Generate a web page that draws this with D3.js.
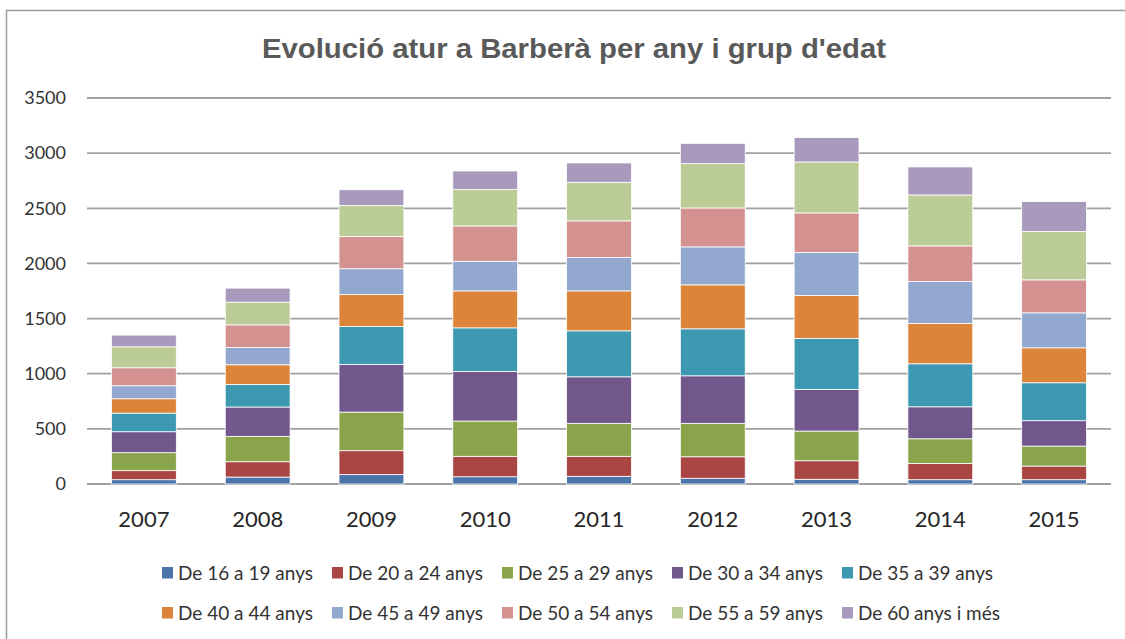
<!DOCTYPE html>
<html><head><meta charset="utf-8">
<script src="https://cdn.jsdelivr.net/npm/d3@7"></script>
<style>
html,body{margin:0;padding:0;background:#fff;overflow:hidden}
svg{display:block}
</style></head>
<body>
<svg id="chart" width="1125" height="639"></svg>
<script>
const years = ["2007","2008","2009","2010","2011","2012","2013","2014","2015"];
const seriesNames = ["De 16 a 19 anys","De 20 a 24 anys","De 25 a 29 anys","De 30 a 34 anys","De 35 a 39 anys","De 40 a 44 anys","De 45 a 49 anys","De 50 a 54 anys","De 55 a 59 anys","De 60 anys i més"];
const s16_19 = [39, 63, 85, 66, 70, 52, 43, 39, 39];
const s20_24 = [82, 139, 217, 185, 181, 195, 168, 148, 124];
const s25_29 = [163, 230, 350, 320, 299, 303, 269, 223, 181];
const s30_34 = [190, 266, 432, 450, 422, 431, 378, 290, 230];
const s35_39 = [169, 205, 345, 395, 417, 426, 462, 390, 344];
const s40_44 = [130, 178, 290, 335, 362, 399, 390, 366, 317];
const s45_49 = [118, 157, 233, 269, 303, 344, 389, 380, 317];
const s50_54 = [163, 205, 293, 320, 332, 353, 359, 323, 299];
const s55_59 = [190, 206, 281, 330, 350, 402, 462, 462, 438];
const s60 = [106, 127, 142, 168, 175, 184, 221, 254, 272];
const yTicks = [0, 500, 1000, 1500, 2000, 2500, 3000, 3500];
const colors = ["#4a74aa","#a94542","#89a44a","#71578b","#3d98b1","#dc8439","#93a8cf","#d39190","#bccc96","#a99abd"];
const title = "Evolució atur a Barberà per any i grup d'edat";

const seriesValues = [s16_19,s20_24,s25_29,s30_34,s35_39,s40_44,s45_49,s50_54,s55_59,s60];
const table = years.map((y, i) => {
  const row = {year: y};
  seriesNames.forEach((n, k) => row[n] = seriesValues[k][i]);
  return row;
});
const stack = d3.stack().keys(seriesNames)(table);

const svg = d3.select("#chart");
const fontAxis = "Lato, 'Open Sans', sans-serif";

// outer border
svg.append("rect").attr("x", 6.5).attr("y", 10.5).attr("width", 1200).attr("height", 700)
  .attr("fill", "#fff").attr("stroke", "#9a9a9a").attr("stroke-width", 1.5);

const x = d3.scaleBand().domain(years).range([87, 1111]).paddingInner(0.43).paddingOuter(0.215);
const y = d3.scaleLinear().domain([0, 3500]).range([484, 98]);

// gridlines
svg.append("g").selectAll("line").data(yTicks).join("line")
  .attr("x1", 87).attr("x2", 1111)
  .attr("y1", d => y(d)).attr("y2", d => y(d))
  .attr("stroke", "#a0a0a0").attr("stroke-width", 1.8);

// y labels
svg.append("g").selectAll("text").data(yTicks).join("text")
  .attr("x", 66).attr("y", d => y(d)).attr("dy", "0.35em")
  .attr("text-anchor", "end").attr("fill", "#333")
  .style("font-family", fontAxis).style("font-size", "18px")
  .text(d => d);

// bars
svg.append("g").selectAll("g").data(stack).join("g")
  .attr("fill", (d, i) => colors[i])
  .selectAll("rect").data(d => d).join("rect")
  .attr("x", d => x(d.data.year))
  .attr("width", x.bandwidth())
  .attr("y", d => y(d[1]))
  .attr("height", d => y(d[0]) - y(d[1]))
  .attr("stroke", "#fff").attr("stroke-width", 0.8);

// x labels
svg.append("g").selectAll("text").data(years).join("text")
  .attr("x", d => x(d) + x.bandwidth() / 2).attr("y", 519).attr("dy", "0.35em")
  .attr("text-anchor", "middle").attr("fill", "#262626")
  .style("font-family", fontAxis).style("font-size", "22px")
  .text(d => d);

// title
svg.append("text").attr("x", 574).attr("y", 57.5).attr("text-anchor", "middle")
  .attr("fill", "#595959").style("font-family", "'Liberation Sans', Arial, sans-serif")
  .style("font-weight", "bold").style("font-size", "27px")
  .attr("textLength", 624).attr("lengthAdjust", "spacingAndGlyphs")
  .text(title);

// legend
const leg = svg.append("g").selectAll("g").data(seriesNames).join("g")
  .attr("transform", (d, i) => `translate(${162 + (i % 5) * 170},${i < 5 ? 573 : 613})`);
leg.append("rect").attr("x", 0).attr("y", -6).attr("width", 11).attr("height", 11.5)
  .attr("fill", (d, i) => colors[i]);
leg.append("text").attr("x", 16).attr("y", 0).attr("dy", "0.35em")
  .attr("fill", "#333").style("font-family", fontAxis).style("font-size", "19px")
  .text(d => d);
</script>
</body></html>
